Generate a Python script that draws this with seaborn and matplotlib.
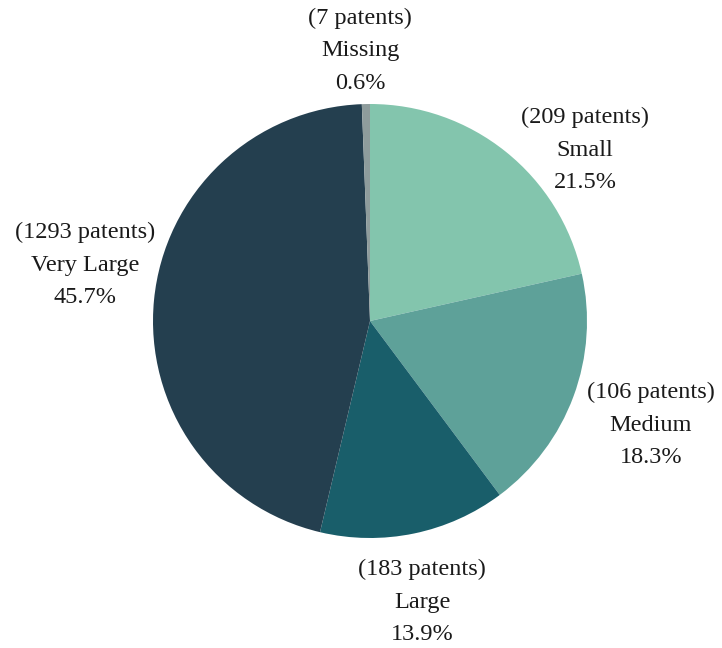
import matplotlib
matplotlib.use("Agg")
import matplotlib.pyplot as plt
import seaborn as sns

categories = ["Small", "Medium", "Large", "Very Large", "Missing"]
patents = [209, 106, 183, 1293, 7]
percent = [21.5, 18.3, 13.9, 45.7, 0.6]
hex_colors = ["#83C5AD", "#5EA199", "#195E6A", "#243F4F", "#8E9C9C"]

# label anchor positions (pie radius = 1 units)
label_pos = [(0.991, 0.788), (1.295, -0.479), (0.240, -1.295), (-1.313, 0.258), (-0.046, 1.245)]

sns.set_theme(style="white")
plt.rcParams["font.family"] = ["Liberation Serif", "DejaVu Serif"]

palette = sns.color_palette(hex_colors)

fig = plt.figure(figsize=(7.22, 6.48), dpi=100)
ax = fig.add_axes([0, 0, 1, 1])
ax.pie(percent, colors=palette, startangle=90, counterclock=False,
       radius=1.0, wedgeprops=dict(linewidth=0))
for cat, n, p, (x, y) in zip(categories, patents, percent, label_pos):
    ax.text(x, y, f"({n} patents)\n{cat}\n{p:.1f}%", ha="center", va="center",
            fontsize=17.5, color="#1a1a1a", linespacing=1.7)
ax.set_xlim(-370 / 217, (722 - 370) / 217)
ax.set_ylim(-(648 - 321) / 217, 321 / 217)
ax.set_aspect("auto")
ax.axis("off")
fig.savefig("out.png", dpi=100, facecolor="white")
